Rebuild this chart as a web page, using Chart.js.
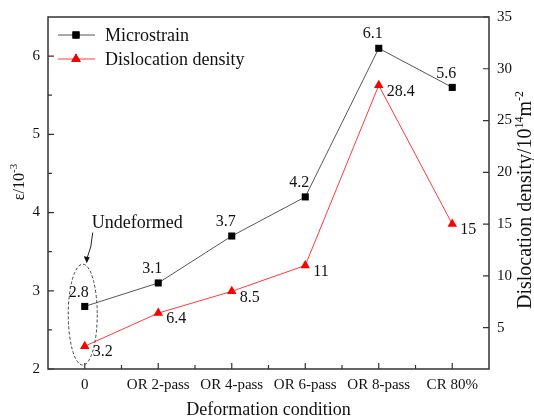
<!DOCTYPE html>
<html><head><meta charset="utf-8">
<script src="https://cdn.jsdelivr.net/npm/chart.js@4.4.1/dist/chart.umd.min.js"></script>
<style>html,body{margin:0;padding:0;background:#fff}</style>
</head><body>
<canvas id="c" width="534" height="420" style="width:534px;height:420px;display:block"></canvas>
<script>
const categories = ['0', 'OR 2-pass', 'OR 4-pass', 'OR 6-pass', 'OR 8-pass', 'CR 80%'];
const microstrain = [2.8, 3.1, 3.7, 4.2, 6.1, 5.6];
const dislocation = [3.2, 6.4, 8.5, 11, 28.4, 15];
const microLabels = ['2.8', '3.1', '3.7', '4.2', '6.1', '5.6'];
const dislLabels = ['3.2', '6.4', '8.5', '11', '28.4', '15'];
const leftTicks = [2, 3, 4, 5, 6];
const leftMinorTicks = [2.5, 3.5, 4.5, 5.5];
const rightTicks = [5, 10, 15, 20, 25, 30, 35];
const seriesNames = ['Microstrain', 'Dislocation density'];
const annotationText = 'Undeformed';
// axis titles as [text, isSuperscript] runs
const leftTitleRuns = [['ε/10', false], ['-3', true]];
const rightTitleRuns = [['Dislocation density/10', false], ['14', true], ['m', false], ['-2', true]];

const FONT = '"Liberation Serif", "Times New Roman", serif';
const AXIS = '#333';

function drawRotatedTitle(ctx, runs, baseX, centerY, size, supSize, supRaise) {
  const mainFont = size + 'px ' + FONT, supFont = supSize + 'px ' + FONT;
  let total = 0;
  runs.forEach(([t, sup]) => { ctx.font = sup ? supFont : mainFont; total += ctx.measureText(t).width; });
  ctx.save();
  ctx.translate(baseX, centerY + total / 2);
  ctx.rotate(-Math.PI / 2);
  ctx.textAlign = 'left'; ctx.textBaseline = 'alphabetic';
  ctx.fillStyle = '#111';
  let x = 0;
  runs.forEach(([t, sup]) => {
    ctx.font = sup ? supFont : mainFont;
    ctx.fillText(t, x, sup ? -supRaise : 0);
    x += ctx.measureText(t).width;
  });
  ctx.restore();
}

const framePlugin = {
  id: 'frame',
  afterDraw(chart) {
    const ctx = chart.ctx;
    const a = chart.chartArea;
    const xs = chart.scales.x, yl = chart.scales.y, yr = chart.scales.y1;
    ctx.save();
    ctx.strokeStyle = AXIS;
    ctx.lineWidth = 1.5;
    ctx.strokeRect(a.left, a.top, a.right - a.left, a.bottom - a.top);
    ctx.lineWidth = 1.2;
    ctx.beginPath();
    categories.forEach((c, i) => {
      const px = xs.getPixelForValue(i);
      ctx.moveTo(px, a.bottom); ctx.lineTo(px, a.bottom - 6);
      if (i > 0) {
        const mx = xs.getPixelForValue(i - 0.5);
        ctx.moveTo(mx, a.bottom); ctx.lineTo(mx, a.bottom - 4);
      }
    });
    leftTicks.forEach(v => {
      const py = yl.getPixelForValue(v);
      ctx.moveTo(a.left, py); ctx.lineTo(a.left + 6, py);
    });
    leftMinorTicks.forEach(v => {
      const py = yl.getPixelForValue(v);
      ctx.moveTo(a.left, py); ctx.lineTo(a.left + 4, py);
    });
    rightTicks.forEach(v => {
      const py = yr.getPixelForValue(v);
      ctx.moveTo(a.right, py); ctx.lineTo(a.right - 6, py);
    });
    ctx.stroke();

    // axis titles
    drawRotatedTitle(ctx, leftTitleRuns, 24, 182, 16, 11, 7);
    drawRotatedTitle(ctx, rightTitleRuns, 531, 200, 20, 12, 8);

    // legend
    const sets = chart.data.datasets;
    const rows = [a.top + 18, a.top + 42];
    sets.forEach((ds, i) => {
      const y = rows[i];
      ctx.strokeStyle = ds.borderColor;
      ctx.lineWidth = 1;
      ctx.beginPath(); ctx.moveTo(a.left + 10, y); ctx.lineTo(a.left + 47, y); ctx.stroke();
      Chart.helpers.drawPoint(ctx, {
        pointStyle: ds.pointStyle, radius: ds.pointRadius, borderWidth: 0, rotation: 0
      }, a.left + 28, y);
      ctx.fillStyle = ds.pointBackgroundColor;
      ctx.fill();
      ctx.fillStyle = '#111';
      ctx.font = '18px ' + FONT;
      ctx.textAlign = 'left'; ctx.textBaseline = 'middle';
      ctx.fillText(seriesNames[i], a.left + 57, y + 1);
    });

    // data labels
    ctx.font = '16px ' + FONT;
    ctx.fillStyle = '#111';
    const m0 = chart.getDatasetMeta(0).data;
    m0.forEach((p, i) => {
      ctx.textAlign = 'center'; ctx.textBaseline = 'middle';
      ctx.fillText(microLabels[i], p.x - 6, p.y - 14);
    });
    const m1 = chart.getDatasetMeta(1).data;
    m1.forEach((p, i) => {
      ctx.textAlign = 'left'; ctx.textBaseline = 'middle';
      ctx.fillText(dislLabels[i], p.x + 8, p.y + 6);
    });

    // "Undeformed" annotation
    const cx = xs.getPixelForValue(0) - 2;
    const yTop = yl.getPixelForValue(3.34);
    const yBot = yl.getPixelForValue(2.05);
    ctx.strokeStyle = '#444';
    ctx.lineWidth = 1;
    ctx.setLineDash([3, 2]);
    ctx.beginPath();
    ctx.ellipse(cx, (yTop + yBot) / 2, 14.5, (yBot - yTop) / 2, 0, 0, Math.PI * 2);
    ctx.stroke();
    ctx.setLineDash([]);
    const ty = yl.getPixelForValue(3.86);
    ctx.font = '18px ' + FONT;
    ctx.fillStyle = '#111';
    ctx.textAlign = 'left'; ctx.textBaseline = 'middle';
    ctx.fillText(annotationText, cx + 9, ty);
    // arrow
    const ax0 = cx + 10, ay0 = ty + 9, ax1 = cx + 4, ay1 = yTop - 1;
    ctx.strokeStyle = '#222';
    ctx.beginPath();
    ctx.moveTo(ax0, ay0);
    ctx.quadraticCurveTo(ax0 - 1, (ay0 + ay1) / 2, ax1, ay1 - 4);
    ctx.stroke();
    ctx.fillStyle = '#111';
    ctx.beginPath();
    ctx.moveTo(ax1, ay1);
    ctx.lineTo(ax1 - 3, ay1 - 7);
    ctx.lineTo(ax1 + 3, ay1 - 6);
    ctx.closePath();
    ctx.fill();
    ctx.restore();
  }
};

new Chart(document.getElementById('c'), {
  type: 'line',
  data: {
    labels: categories,
    datasets: [
      {
        label: seriesNames[0], data: microstrain, yAxisID: 'y',
        borderColor: '#555', borderWidth: 1,
        pointStyle: 'rect', pointRadius: 5, pointBorderWidth: 0,
        pointBackgroundColor: '#000', pointBorderColor: '#000', tension: 0
      },
      {
        label: seriesNames[1], data: dislocation, yAxisID: 'y1',
        borderColor: '#ff3a3a', borderWidth: 1,
        pointStyle: 'triangle', pointRadius: 5.5, pointBorderWidth: 0,
        pointBackgroundColor: '#ff0000', pointBorderColor: '#ff0000', tension: 0
      }
    ]
  },
  options: {
    responsive: false,
    animation: false,
    devicePixelRatio: 1,
    layout: { padding: { top: 14, left: 0, right: 0, bottom: 0 } },
    plugins: { legend: { display: false }, tooltip: { enabled: false } },
    scales: {
      x: {
        type: 'category', offset: true,
        grid: { display: false, drawTicks: false },
        border: { display: false },
        ticks: { color: '#111', font: { family: FONT, size: 15 }, padding: 7, maxRotation: 0, autoSkip: false },
        title: { display: true, text: 'Deformation condition', color: '#111', font: { family: FONT, size: 18 }, padding: { top: 0, bottom: -1 } },
        afterFit(s) { s.height = 51; }
      },
      y: {
        position: 'left', min: 2, max: 6.5,
        grid: { display: false, drawTicks: false },
        border: { display: false },
        ticks: { color: '#111', font: { family: FONT, size: 15 }, padding: 8 },
        afterBuildTicks(s) { s.ticks = leftTicks.map(v => ({ value: v })); },
        afterFit(s) { s.width = 48; }
      },
      y1: {
        position: 'right', min: 1, max: 35,
        grid: { display: false, drawTicks: false },
        border: { display: false },
        ticks: { color: '#111', font: { family: FONT, size: 15 }, padding: 8 },
        afterBuildTicks(s) { s.ticks = rightTicks.map(v => ({ value: v })); },
        afterFit(s) { s.width = 45; }
      }
    }
  },
  plugins: [framePlugin]
});
</script>
</body></html>
